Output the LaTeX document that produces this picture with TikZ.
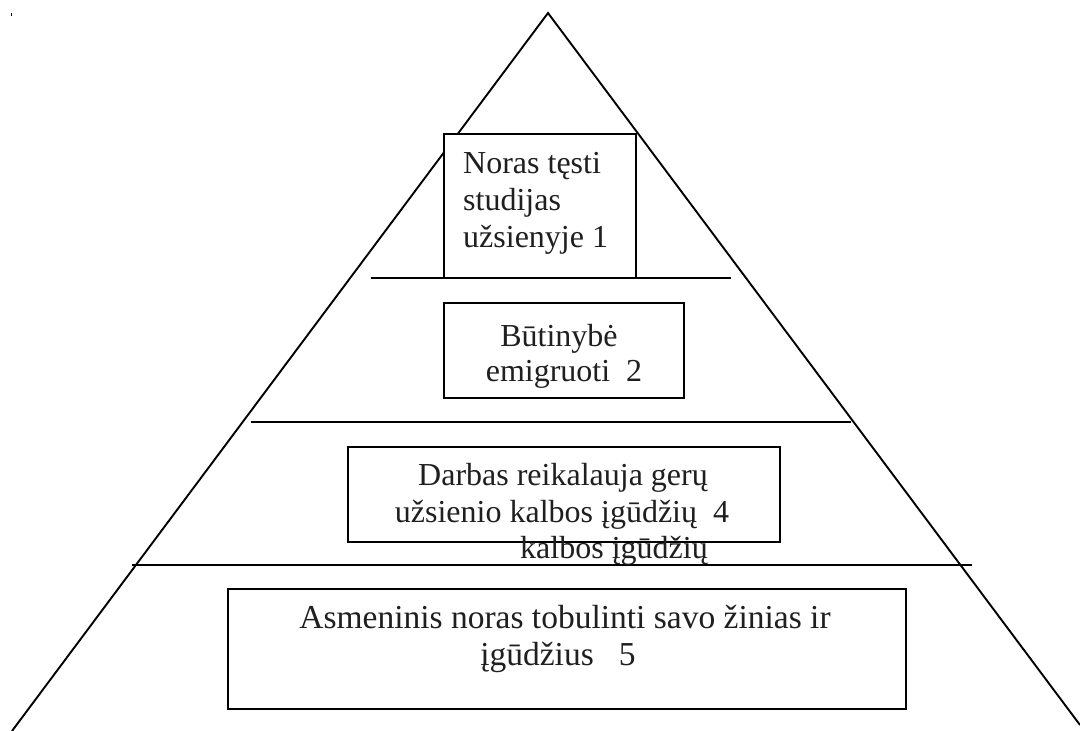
\documentclass[tikz,border=0pt]{standalone}
\usepackage{fontspec}
\setmainfont{Liberation Serif}
\begin{document}
\begin{tikzpicture}[x=1pt,y=-1pt,
  edge/.style={line width=1.9pt,black},
  box/.style={draw=black,line width=1.9pt,fill=white,inner sep=0pt,anchor=north west},
  txt/.style={font=\fontsize{32}{37}\selectfont,text=black!88,inner sep=0pt,anchor=base},
  txtb/.style={font=\fontsize{33.5}{37}\selectfont,text=black!88,inner sep=0pt,anchor=base}]
\useasboundingbox (0,0) rectangle (1080,731);
% tiny mark
\fill (10.5,12.5) rectangle (11.8,15.5);
% pyramid
\coordinate (apex) at (548,13);
\coordinate (bl) at (12,731);
\coordinate (br) at (1080,725);
\draw[edge] (bl) -- (apex) -- (br);
% horizontal dividers
\draw[edge] (371,278) -- (731,278);
\draw[edge] (251,422) -- (851,422);
\draw[edge] (132,565) -- (972,565);
% boxes
\node[box,minimum width=192pt,minimum height=144pt] (b1) at (443,133) {};
\node[box,minimum width=240pt,minimum height=95pt] (b2) at (443,302) {};
\node[box,minimum width=432pt,minimum height=95pt] (b3) at (347,446) {};
\node[box,minimum width=678pt,minimum height=120pt] (b4) at (227,588) {};
% texts box 1
\node[txt,anchor=base west] (t1a) at (463,173) {Noras tęsti};
\node[txt,anchor=base west] (t1b) at (463,210) {studijas};
\node[txt,anchor=base west] (t1c) at (463,247) {užsienyje 1};
% box 2
\node[txt] (t2a) at (559,346) {Būtinybė};
\node[txt] (t2b) at (564,381) {emigruoti~ 2};
% box 3
\node[txt] (t3a) at (563,485) {Darbas reikalauja gerų};
\node[txt] (t3b) at (562,522) {užsienio kalbos įgūdžių~ 4};
\node[txt,anchor=base west] (t3c) at (520,558) {kalbos įgūdžių};
% box 4
\node[txtb] (t4a) at (565,628) {Asmeninis noras tobulinti savo žinias ir};
\node[txtb] (t4b) at (558,665) {įgūdžius ~ 5};
\end{tikzpicture}
\end{document}
